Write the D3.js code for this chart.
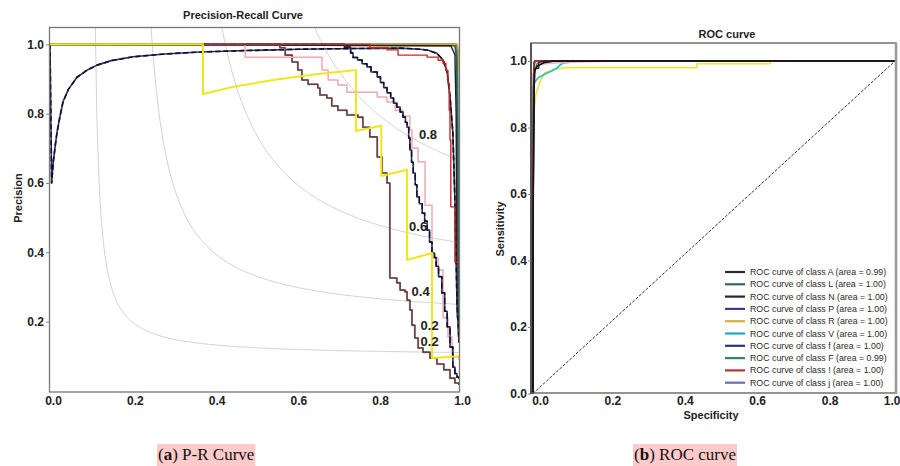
<!DOCTYPE html>
<html>
<head>
<meta charset="utf-8">
<script src="https://cdn.jsdelivr.net/npm/d3@7/dist/d3.min.js"></script>
<style>
  html, body { margin: 0; padding: 0; background: #fff; }
  svg { display: block; }
  .tick text { font-family: "Liberation Sans", Arial, sans-serif; font-weight: bold; font-size: 12px; fill: #222; }
</style>
</head>
<body>
<svg id="fig" width="900" height="466"></svg>
<script>
// ---------- Precision-Recall curves: [recall, precision] ----------
const prTicksX = [0, 0.2, 0.4, 0.6, 0.8, 1.0];
const prTicksY = [0.2, 0.4, 0.6, 0.8, 1.0];
const isoF1 = [0.2, 0.4, 0.6, 0.8];
const isoLabels = [
  { text: "0.8", r: 0.902, p: 0.728 },
  { text: "0.6", r: 0.878, p: 0.462 },
  { text: "0.4", r: 0.884, p: 0.274 },
  { text: "0.2", r: 0.906, p: 0.176 },
  { text: "0.2", r: 0.906, p: 0.130 }
];

const prTeal = [[0,1],[0.993,1],[0.996,0.97],[0.998,0.6],[0.999,0.3],[1.0,0.14]];
const prGreen = [[0,1],[0.99,0.996],[0.994,0.96],[0.996,0.75],[0.998,0.4],[1.0,0.2]];
const prOrange = [[0,1],[0.996,1],[0.999,0.98],[1.0,0.92]];
const prDark = [[0,1],[0.98,0.996],[0.99,0.97],[0.993,0.8],[0.995,0.33],[0.996,0.21],[1.0,0.2]];

const prClassA = [[0,1.0],[0.004,0.60],[0.008,0.66],[0.012,0.70],[0.017,0.745],[0.024,0.79],[0.032,0.835],
  [0.045,0.87],[0.066,0.905],[0.09,0.925],[0.115,0.94],[0.15,0.953],[0.203,0.964],[0.28,0.972],[0.367,0.978],
  [0.48,0.982],[0.611,0.986],[0.75,0.988],[0.856,0.989],[0.905,0.986],[0.924,0.983],[0.946,0.974],[0.961,0.955],
  [0.971,0.92],[0.978,0.85],[0.985,0.744],[0.99,0.55],[0.995,0.26],[1.0,0.14]];

const prBrown = [[0,1.0],[0.562,0.990],[0.575,0.969],[0.592,0.949],[0.606,0.926],[0.616,0.897],[0.631,0.885],
  [0.655,0.874],[0.660,0.854],[0.677,0.845],[0.689,0.822],[0.704,0.810],[0.726,0.796],[0.753,0.790],[0.765,0.761],
  [0.782,0.733],[0.800,0.675],[0.812,0.629],[0.824,0.600],[0.831,0.326],[0.848,0.312],[0.856,0.291],[0.868,0.286],
  [0.873,0.262],[0.880,0.234],[0.885,0.190],[0.892,0.153],[0.900,0.124],[0.912,0.112],[0.929,0.095],[0.946,0.078],
  [0.963,0.061],[0.978,0.037],[0.990,0.023],[1.0,0.017]];

const prPink = [[0,1.0],[0.477,0.963],[0.665,0.926],[0.680,0.897],[0.704,0.883],[0.726,0.862],[0.800,0.848],
  [0.824,0.834],[0.844,0.810],[0.863,0.793],[0.880,0.753],[0.885,0.701],[0.900,0.661],[0.917,0.536],[0.934,0.384],
  [0.949,0.349],[0.961,0.211],[0.973,0.156],[0.983,0.098],[1.0,0.09]];

const prMid = [[0,1.0],[0.72,0.992],[0.735,0.975],[0.741,0.962],[0.752,0.955],[0.763,0.944],[0.775,0.935],
  [0.785,0.92],[0.80,0.906],[0.808,0.89],[0.816,0.875],[0.824,0.86],[0.833,0.845],[0.84,0.83],[0.848,0.819],
  [0.856,0.805],[0.863,0.79],[0.869,0.775],[0.873,0.761],[0.877,0.73],[0.88,0.695],[0.884,0.66],[0.888,0.629],
  [0.893,0.595],[0.897,0.56],[0.903,0.54],[0.91,0.513],[0.916,0.49],[0.922,0.464],[0.928,0.43],[0.934,0.398],
  [0.94,0.385],[0.944,0.36],[0.95,0.33],[0.958,0.283],[0.965,0.23],[0.971,0.185],[0.978,0.127],[0.985,0.069],
  [0.99,0.05],[0.995,0.040],[1.0,0.035]];

const prRed = [[0,1.0],[0.782,0.990],[0.824,0.984],[0.851,0.969],[0.922,0.963],[0.949,0.954],[0.961,0.945],
  [0.968,0.925],[0.973,0.888],[0.976,0.810],[0.978,0.724],[0.980,0.531],[0.990,0.372],[1.0,0.37]];

const prYellow = [[0,1.0],[0.374,1.0],[0.374,0.857],[0.45,0.878],[0.55,0.898],[0.65,0.914],[0.748,0.926],
  [0.748,0.75],[0.81,0.765],[0.81,0.62],[0.873,0.638],[0.873,0.378],[0.934,0.398],[0.934,0.095],[1.0,0.10]];

// ---------- ROC curves: [1 - specificity, sensitivity] ----------
const rocTicks = [0, 0.2, 0.4, 0.6, 0.8, 1.0];
const rocClasses = ["A", "L", "N", "P", "R", "V", "f", "F", "!", "j"];
const rocAreas = ["0.99", "1.00", "1.00", "1.00", "1.00", "1.00", "1.00", "0.99", "1.00", "1.00"];

const rocA = [[0,0],[0,0.48],[0.003,0.92],[0.005,0.97],[0.012,0.985],[0.03,0.995],[0.06,1],[1,1]];
const rocL = [[0,0],[0,0.6],[0.002,0.99],[0.005,1],[1,1]];
const rocN = [[0,0],[0,0.5],[0.004,0.97],[0.004,0.978],[0.016,0.978],[0.016,0.995],[0.03,1],[1,1]];
const rocP = [[0,0],[0,0.7],[0.002,0.995],[0.008,1],[1,1]];
const rocR = [[0,0],[0,0.78],[0.004,0.86],[0.008,0.9],[0.019,0.937],[0.033,0.965],[0.055,0.974],[0.088,0.98],
  [0.453,0.98],[0.453,0.992],[0.655,0.992],[0.655,1],[1,1]];
const rocV = [[0,0],[0,0.9],[0,0.919],[0.005,0.937],[0.014,0.949],[0.028,0.958],[0.039,0.964],[0.052,0.97],
  [0.066,0.979],[0.075,0.988],[0.083,0.994],[0.102,0.997],[0.124,1],[1,1]];
const rocf = [[0,0],[0,0.55],[0.002,0.98],[0.006,1],[1,1]];
const rocF = [[0,0],[0,0.5],[0.003,0.96],[0.01,0.99],[0.02,1],[1,1]];
const rocBang = [[0,0],[0,0.6],[0.002,0.99],[0.004,1],[1,1]];
const rocJ = [[0,0],[0,0.96],[0.006,0.985],[0.02,0.99],[0.06,0.994],[0.12,0.997],[0.25,1],[1,1]];

// ---------- drawing ----------
const svg = d3.select("#fig");
const FONT = "'Liberation Sans', Arial, sans-serif";

// ===== Panel (a): Precision-Recall =====
const xPR = d3.scaleLinear().domain([0, 1]).range([50, 459]);
const yPR = d3.scaleLinear().domain([0, 1.05]).range([391, 27]);

svg.append("clipPath").attr("id", "clipPR").append("rect")
  .attr("x", 49).attr("y", 27).attr("width", 411).attr("height", 365);

const gPR = svg.append("g");
const plotPR = gPR.append("g").attr("clip-path", "url(#clipPR)");

// iso-F1 reference curves
const isoX = d3.range(0.01, 1.00001, 0.99 / 199);
isoF1.forEach(f => {
  const pts = isoX.map(x => [x, f * x / (2 * x - f)]).filter(d => d[1] >= 0);
  plotPR.append("path")
    .attr("d", d3.line().x(d => xPR(d[0])).y(d => yPR(Math.min(d[1], 3)))(pts))
    .attr("fill", "none").attr("stroke", "#d2d2d2").attr("stroke-width", 1);
});

const linePR = d3.line().x(d => xPR(d[0])).y(d => yPR(d[1]));
const stepPR = d3.line().x(d => xPR(d[0])).y(d => yPR(d[1])).curve(d3.curveStepAfter);

function drawPR(data, gen, color, width, dash) {
  const p = plotPR.append("path").attr("d", gen(data))
    .attr("fill", "none").attr("stroke", color).attr("stroke-width", width)
    .attr("stroke-linejoin", "round");
  if (dash) p.attr("stroke-dasharray", dash);
}

drawPR(prTeal, linePR, "#3f8f8f", 2.2);
drawPR(prGreen, linePR, "#2e5e4a", 1.6);
drawPR(prOrange, linePR, "#e8a030", 1.5);
drawPR(prDark, linePR, "#222", 1.4);
drawPR(prClassA, linePR, "#2b2f80", 1.6);
drawPR(prClassA, linePR, "#111", 1.6, "5,3");
drawPR(prBrown, stepPR, "#9a9090", 2.0);
drawPR(prBrown, stepPR, "#5e2a2a", 1.1);
drawPR(prPink, stepPR, "#f0a8b4", 1.5);
drawPR(prMid, stepPR, "#2b2f80", 1.6);
drawPR(prMid, stepPR, "#111", 1.4, "6,3");
drawPR(prRed, stepPR, "#c42a20", 1.4);
drawPR(prYellow, linePR, "#f2e61a", 2.0);

// iso-F1 labels
gPR.selectAll("text.iso").data(isoLabels).join("text")
  .attr("class", "iso")
  .attr("x", d => xPR(d.r)).attr("y", d => yPR(d.p))
  .attr("font-family", FONT).attr("font-weight", "bold").attr("font-size", 13)
  .attr("fill", "#222").text(d => d.text);

// frame
gPR.append("rect").attr("x", 49.5).attr("y", 27.5).attr("width", 410).attr("height", 364.5)
  .attr("fill", "none").attr("stroke", "#777").attr("stroke-width", 1.3);

// axes
const axXPR = gPR.append("g").attr("transform", "translate(0,392)")
  .call(d3.axisBottom(xPR).tickValues(prTicksX).tickFormat(d3.format(".1f")).tickSize(0).tickPadding(4));
axXPR.select(".domain").remove();
axXPR.selectAll("text").attr("dx", 3);

const axYPR = gPR.append("g").attr("transform", "translate(49,0)")
  .call(d3.axisLeft(yPR).tickValues(prTicksY).tickFormat(d3.format(".1f")).tickSize(3).tickPadding(2));
axYPR.select(".domain").remove();
axYPR.selectAll("line").attr("stroke", "#888");

gPR.append("text").attr("x", 243).attr("y", 19).attr("text-anchor", "middle")
  .attr("font-family", FONT).attr("font-weight", "bold").attr("font-size", 11).attr("fill", "#222")
  .text("Precision-Recall Curve");
gPR.append("text").attr("transform", "translate(22,198) rotate(-90)").attr("text-anchor", "middle")
  .attr("font-family", FONT).attr("font-weight", "bold").attr("font-size", 11).attr("fill", "#222")
  .text("Precision");

// ===== Panel (b): ROC =====
const xR = d3.scaleLinear().domain([0, 1]).range([533, 895]);
const yR = d3.scaleLinear().domain([0, 1.05]).range([393.5, 44.4]);

svg.append("clipPath").attr("id", "clipR").append("rect")
  .attr("x", 531).attr("y", 43).attr("width", 366).attr("height", 351);

const gR = svg.append("g");
const plotR = gR.append("g").attr("clip-path", "url(#clipR)");
const lineR = d3.line().x(d => xR(d[0])).y(d => yR(d[1]));

// chance diagonal
plotR.append("path").attr("d", lineR([[0, 0], [1, 1]]))
  .attr("fill", "none").attr("stroke", "#333").attr("stroke-width", 1).attr("stroke-dasharray", "3,1.5");

const rocColors = {
  A: "#2a2a35", L: "#2e6a50", N: "#3d1f1f", P: "#3a3a95", R: "#d8b040",
  V: "#20a8c8", f: "#2c3a6e", F: "#2e8a5a", "!": "#c03030", j: "#6c6cae"
};
const rocDraw = [
  [rocR, "#eee43a", 1.6],
  [rocV, "#2fc0c8", 1.8],
  [rocJ, "#e9b4c2", 1.3],
  [rocP, rocColors.P, 1.4],
  [rocL, rocColors.L, 1.4],
  [rocF, rocColors.F, 1.4],
  [rocf, rocColors.f, 1.4],
  [rocBang, rocColors["!"], 1.4],
  [rocN, rocColors.N, 1.3],
  [rocA, "#111", 1.6]
];
rocDraw.forEach(([data, color, w]) => {
  plotR.append("path").attr("d", lineR(data)).attr("fill", "none")
    .attr("stroke", color).attr("stroke-width", w).attr("stroke-linejoin", "round");
});

// frame (spines drawn over the curves)
gR.append("rect").attr("x", 531).attr("y", 43).attr("width", 365).attr("height", 350)
  .attr("fill", "none").attr("stroke", "#666").attr("stroke-width", 1.4);
gR.append("line").attr("x1", 896).attr("x2", 896).attr("y1", 43).attr("y2", 394)
  .attr("stroke", "#999").attr("stroke-width", 2.5);
gR.append("line").attr("x1", 531).attr("x2", 531).attr("y1", 43).attr("y2", 394)
  .attr("stroke", "#555").attr("stroke-width", 2);

const axXR = gR.append("g").attr("transform", "translate(0,393)")
  .call(d3.axisBottom(xR).tickValues(rocTicks).tickFormat(d3.format(".1f")).tickSize(0).tickPadding(3));
axXR.select(".domain").remove();
axXR.selectAll("text").attr("dx", 7);
axXR.selectAll("text").filter(d => d === 1).attr("dx", 0)
  .attr("text-anchor", "end").attr("x", 900 - xR(1));

const axYR = gR.append("g").attr("transform", "translate(531,0)")
  .call(d3.axisLeft(yR).tickValues(rocTicks).tickFormat(d3.format(".1f")).tickSize(3).tickPadding(1));
axYR.select(".domain").remove();
axYR.selectAll("line").attr("stroke", "#888");

gR.append("text").attr("x", 727).attr("y", 38).attr("text-anchor", "middle")
  .attr("font-family", FONT).attr("font-weight", "bold").attr("font-size", 11).attr("fill", "#222")
  .text("ROC curve");
gR.append("text").attr("x", 711).attr("y", 418.5).attr("text-anchor", "middle")
  .attr("font-family", FONT).attr("font-weight", "bold").attr("font-size", 11).attr("fill", "#222")
  .text("Specificity");
gR.append("text").attr("transform", "translate(504,229) rotate(-90)").attr("text-anchor", "middle")
  .attr("font-family", FONT).attr("font-weight", "bold").attr("font-size", 11).attr("fill", "#222")
  .text("Sensitivity");

// legend
const leg = gR.append("g").attr("transform", "translate(725,272)");
const rows = leg.selectAll("g").data(rocClasses).join("g")
  .attr("transform", (d, i) => `translate(0,${i * 12.3})`);
rows.append("line").attr("x1", 0).attr("x2", 20).attr("y1", 0).attr("y2", 0)
  .attr("stroke", d => rocColors[d]).attr("stroke-width", 2.2);
rows.append("text").attr("x", 25).attr("y", 3)
  .attr("font-family", FONT).attr("font-size", 8.8).attr("fill", "#2a2a2a")
  .text((d, i) => `ROC curve of class ${d} (area = ${rocAreas[i]})`);

// ===== captions =====
function caption(x, letter, rest) {
  const g = svg.append("g");
  const bg = g.append("rect").attr("fill", "#ffcaca");
  const t = g.append("text").attr("x", x).attr("y", 460)
    .attr("font-family", "'Liberation Serif', 'Times New Roman', serif").attr("font-size", 17).attr("fill", "#111");
  t.append("tspan").text("(");
  t.append("tspan").attr("font-weight", "bold").text(letter);
  t.append("tspan").text(") " + rest);
  const bb = t.node().getBBox();
  bg.attr("x", bb.x - 1).attr("y", bb.y - 1).attr("width", bb.width + 2).attr("height", 466 - bb.y + 1);
}
caption(158, "a", "P-R Curve");
caption(634, "b", "ROC curve");
</script>
</body>
</html>
